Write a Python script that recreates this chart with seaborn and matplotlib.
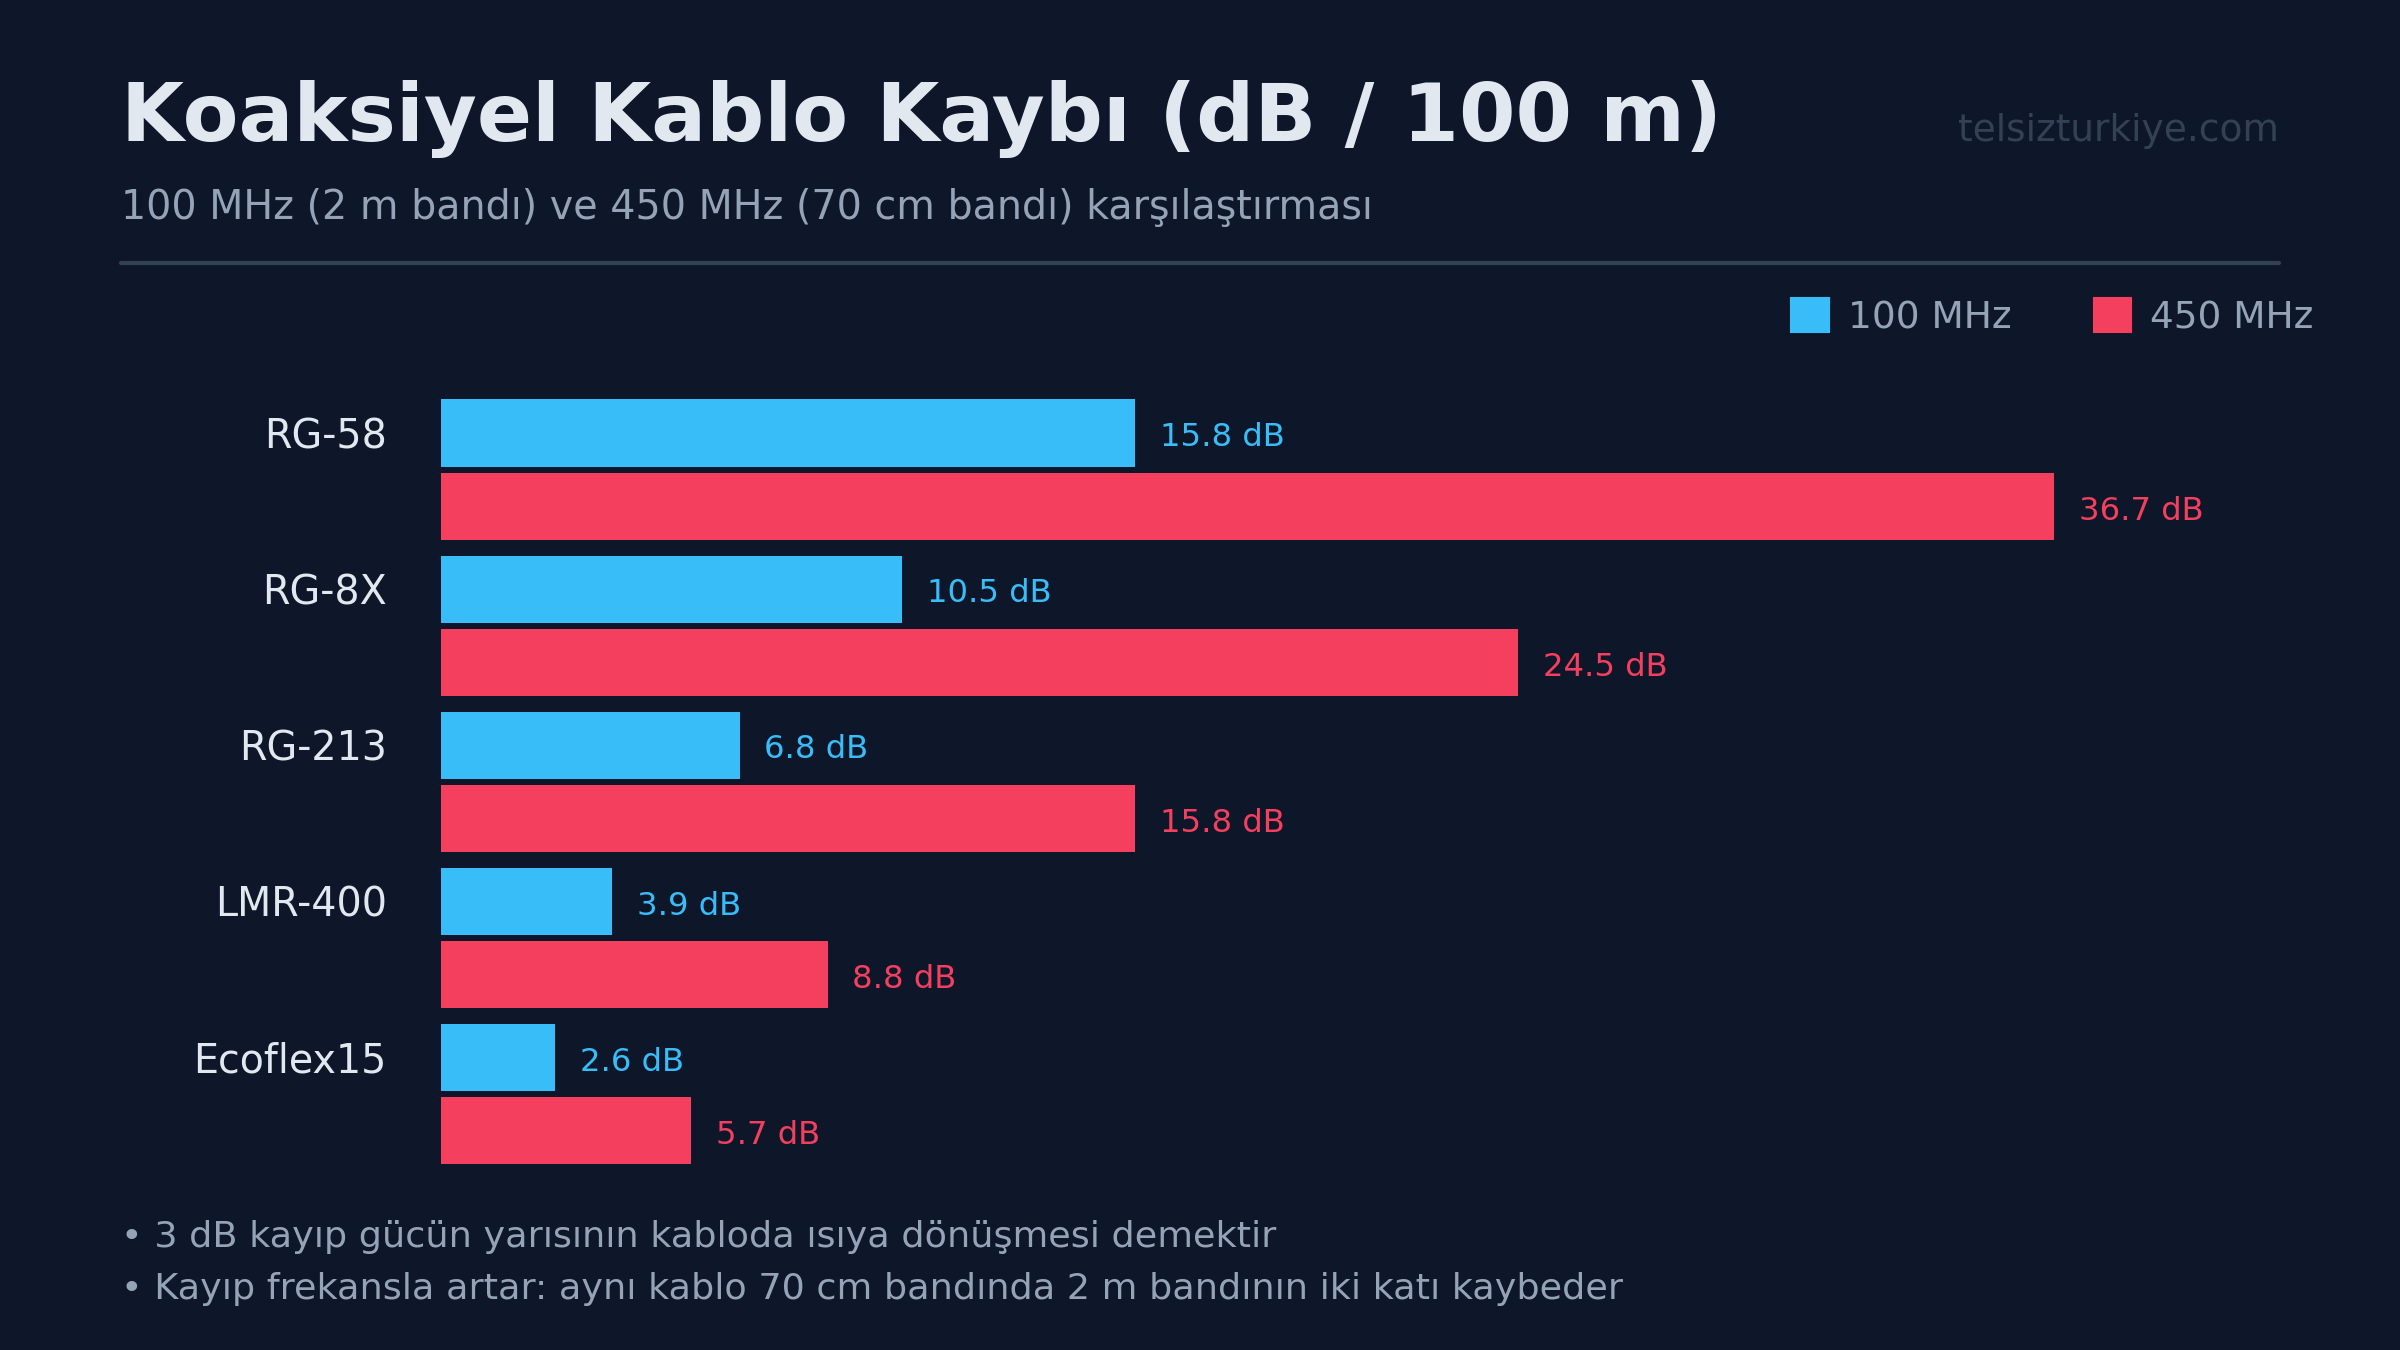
import seaborn as sns
import pandas as pd
import matplotlib.pyplot as plt
from matplotlib.patches import Patch

cables = ['RG-58', 'RG-8X', 'RG-213', 'LMR-400', 'Ecoflex15']
loss_100 = [15.8, 10.5, 6.8, 3.9, 2.6]
loss_450 = [36.7, 24.5, 15.8, 8.8, 5.7]
bands = ['100 MHz', '450 MHz']
colors = ['#38bdf8', '#f43f5e']

bg = '#0e1729'
df = pd.DataFrame({
    'Kablo': cables * 2,
    'Kayip': loss_100 + loss_450,
    'Band': [bands[0]] * len(cables) + [bands[1]] * len(cables),
})

sns.set_style('dark')
plt.rcParams['font.family'] = ['DejaVu Sans']
fig = plt.figure(figsize=(16, 9), dpi=150, facecolor=bg)
ax = fig.add_axes([0.1837, 0.1202, 0.766, 0.6012])
ax.set_facecolor(bg)

sns.barplot(data=df, y='Kablo', x='Kayip', hue='Band', order=cables,
            hue_order=bands, palette=colors, width=0.94, orient='h',
            saturation=1, ax=ax, legend=False)

ax.set_xlim(0, 41.82)
ax.set_ylim(4.6, -0.6)
for p in ax.patches:
    c = p.get_y() + p.get_height() / 2
    p.set_height(0.431)
    p.set_y(c - 0.2155)
    p.set_linewidth(0)

for i in range(len(cables)):
    for j, vals in enumerate([loss_100, loss_450]):
        y = i - 0.235 + 0.47 * j
        ax.text(vals[i] + 0.56, y + 0.03, f'{vals[i]} dB', color=colors[j],
                fontsize=15.5, va='center', ha='left')

ax.set_yticks([i - 0.235 for i in range(len(cables))])
ax.set_yticklabels(cables, color='#e2e8f0', fontsize=19)
ax.tick_params(axis='y', length=0, pad=26)
ax.set_xticks([])
ax.set_xlabel('')
ax.set_ylabel('')
ax.grid(False)
for s in ax.spines.values():
    s.set_visible(False)

fig.text(0.0504, 0.912, 'Koaksiyel Kablo Kaybı (dB / 100 m)', color='#e2e8f0',
         fontsize=39, fontweight='bold', va='center')
fig.text(0.0504, 0.846, '100 MHz (2 m bandı) ve 450 MHz (70 cm bandı) karşılaştırması',
         color='#94a3b8', fontsize=19, va='center')
fig.text(0.9497, 0.903, 'telsizturkiye.com', color='#334155', fontsize=18,
         ha='right', va='center')
fig.add_artist(plt.Line2D([0.0504, 0.9497], [0.805, 0.805], color='#334155',
                          lw=2, transform=fig.transFigure))

handles = [Patch(color=c, label=b) for c, b in zip(colors, bands)]
leg = fig.legend(handles=handles, loc='center right', bbox_to_anchor=(0.978, 0.765),
                 ncol=2, frameon=False, fontsize=18, handlelength=1.0,
                 handleheight=1.0, columnspacing=2.2, handletextpad=0.5)
for t in leg.get_texts():
    t.set_color('#94a3b8')

fig.text(0.0504, 0.084, '• 3 dB kayıp gücün yarısının kabloda ısıya dönüşmesi demektir',
         color='#94a3b8', fontsize=17.5, va='center')
fig.text(0.0504, 0.0454, '• Kayıp frekansla artar: aynı kablo 70 cm bandında 2 m bandının iki katı kaybeder',
         color='#94a3b8', fontsize=17.5, va='center')

fig.savefig('out.png', dpi=150, facecolor=bg)
